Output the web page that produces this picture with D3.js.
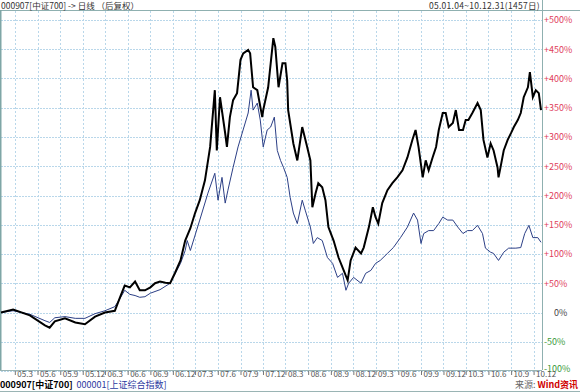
<!DOCTYPE html>
<html><head><meta charset="utf-8">
<script src="https://cdn.jsdelivr.net/npm/d3@7/dist/d3.min.js"></script>
<style>body{margin:0;background:#fff;}svg{display:block;}</style>
</head><body><svg id="c" width="580" height="392"></svg>
<script>
const csi700Dates = ["2005-01-04","2005-02-22","2005-05-01","2005-07-01","2005-07-20","2005-08-10","2005-09-20","2005-11-01","2005-12-10","2006-01-20","2006-03-01","2006-04-10","2006-05-01","2006-05-20","2006-06-10","2006-07-01","2006-07-20","2006-08-10","2006-09-01","2006-09-20","2006-10-10","2006-11-01","2006-11-20","2006-12-10","2007-01-01","2007-01-20","2007-02-10","2007-03-01","2007-03-20","2007-04-10","2007-05-01","2007-05-20","2007-05-28","2007-06-10","2007-07-01","2007-07-08","2007-07-20","2007-08-02","2007-08-18","2007-09-01","2007-09-12","2007-10-02","2007-10-10","2007-10-22","2007-11-08","2007-11-28","2007-12-02","2007-12-22","2008-01-12","2008-01-20","2008-02-02","2008-02-18","2008-03-01","2008-03-08","2008-03-12","2008-04-02","2008-04-18","2008-05-08","2008-05-28","2008-06-10","2008-06-18","2008-07-01","2008-07-12","2008-07-28","2008-08-10","2008-08-22","2008-09-12","2008-10-02","2008-10-18","2008-11-08","2008-11-20","2008-12-10","2009-01-01","2009-01-12","2009-02-02","2009-02-18","2009-03-01","2009-03-12","2009-03-28","2009-04-18","2009-05-08","2009-05-28","2009-06-18","2009-07-08","2009-07-28","2009-08-10","2009-08-22","2009-09-08","2009-09-20","2009-10-02","2009-10-18","2009-11-01","2009-11-12","2009-11-28","2009-12-10","2009-12-22","2010-01-08","2010-01-20","2010-02-02","2010-02-18","2010-03-01","2010-03-12","2010-03-28","2010-04-18","2010-05-01","2010-05-12","2010-05-28","2010-06-10","2010-06-22","2010-07-08","2010-07-12","2010-07-20","2010-08-02","2010-08-18","2010-09-01","2010-09-12","2010-09-28","2010-10-10","2010-10-22","2010-11-08","2010-11-16","2010-11-28","2010-12-10","2010-12-22","2010-12-31"];
const csi700Values = [0,5,-5,-22,-26,-15,-10,-17,-20,-7,0,3,26,46,43,53,38,38,43,50,53,51,50,68,89,123,144,170,192,226,283,380,277,368,306,283,334,363,375,432,443,449,443,385,380,334,346,385,469,454,385,426,426,397,346,289,260,317,283,260,180,204,221,214,192,146,123,94,77,55,89,111,101,111,146,180,163,152,187,209,221,231,243,265,295,312,283,231,260,243,265,283,312,341,341,317,324,346,312,312,329,329,341,358,346,295,265,289,277,248,231,248,277,295,307,317,329,341,368,385,411,368,380,375,346];

const sseDates = ["2005-01-04","2005-02-22","2005-05-01","2005-07-01","2005-07-20","2005-08-10","2005-09-20","2005-11-01","2005-12-10","2006-01-20","2006-03-01","2006-04-10","2006-05-01","2006-05-20","2006-06-10","2006-07-01","2006-07-20","2006-08-10","2006-09-01","2006-10-10","2006-11-20","2007-01-01","2007-01-20","2007-01-28","2007-02-10","2007-03-20","2007-04-22","2007-05-20","2007-06-02","2007-06-18","2007-07-01","2007-07-12","2007-08-02","2007-08-22","2007-09-20","2007-10-02","2007-10-14","2007-10-22","2007-11-08","2007-11-20","2007-12-02","2007-12-18","2008-01-01","2008-01-16","2008-01-28","2008-02-10","2008-02-22","2008-03-08","2008-03-20","2008-04-02","2008-04-18","2008-05-08","2008-05-20","2008-06-10","2008-06-22","2008-07-08","2008-07-28","2008-08-18","2008-09-08","2008-09-28","2008-10-18","2008-11-01","2008-11-12","2008-12-02","2009-01-01","2009-01-20","2009-02-10","2009-03-01","2009-03-20","2009-04-18","2009-05-12","2009-06-10","2009-07-08","2009-08-02","2009-08-18","2009-09-01","2009-09-12","2009-10-02","2009-10-22","2009-11-12","2009-11-28","2009-12-18","2010-01-08","2010-01-28","2010-02-18","2010-03-08","2010-03-28","2010-04-18","2010-05-08","2010-05-20","2010-06-10","2010-06-22","2010-07-12","2010-08-02","2010-08-22","2010-09-20","2010-10-10","2010-10-26","2010-11-12","2010-11-28","2010-12-18","2010-12-31"];
const sseValues = [0,3,-3,-14,-17,-9,-7,-10,-10,-2,3,10,24,38,31,29,26,27,33,39,50,84,106,123,106,158,204,238,192,231,187,209,248,283,324,341,380,346,358,329,283,312,317,334,277,260,248,231,197,170,152,192,175,146,118,128,123,94,84,60,67,38,50,60,50,67,72,84,89,101,111,128,146,170,158,118,135,140,140,152,163,158,158,146,135,140,140,149,135,110,103,101,89,103,110,110,111,135,149,128,128,120];

const yTickValues = [500,450,400,350,300,250,200,150,100,50,0,-50,-100];
const xTickDates = ["2005-03-01","2005-06-01","2005-09-01","2005-12-01","2006-03-01","2006-06-01","2006-09-01","2006-12-01","2007-03-01","2007-06-01","2007-09-01","2007-12-01","2008-03-01","2008-06-01","2008-09-01","2008-12-01","2009-03-01","2009-06-01","2009-09-01","2009-12-01","2010-03-01","2010-06-01","2010-09-01","2010-12-01"];
const xTickLabels = ["05.3","05.6","05.9","05.12","06.3","06.6","06.9","06.12","07.3","07.6","07.9","07.12","08.3","08.6","08.9","08.12","09.3","09.6","09.9","09.12","10.3","10.6","10.9","10.12"];

const parse = d3.timeParse("%Y-%m-%d");
const svg = d3.select("#c");
const font = "'Noto Sans CJK SC', 'DejaVu Sans', sans-serif";
const L = 1, R = 542, T = 11, B = 370;

const x = d3.scaleTime().domain([parse("2005-01-04"), parse("2010-12-31")]).range([1, 541]);
const y = d3.scaleLinear().domain([-100, 500]).range([371, 20]);

// grid
const g = svg.append("g");
g.selectAll("line.h").data(yTickValues).join("line")
  .attr("x1", L).attr("x2", R).attr("y1", d => Math.round(y(d)) + 0.5).attr("y2", d => Math.round(y(d)) + 0.5)
  .attr("stroke", "#b9d7ea").attr("stroke-width", 1).attr("stroke-dasharray", "2,1");
g.selectAll("line.v").data(xTickDates).join("line")
  .attr("x1", d => Math.round(x(parse(d))) + 0.5).attr("x2", d => Math.round(x(parse(d))) + 0.5)
  .attr("y1", T).attr("y2", B)
  .attr("stroke", "#b9d7ea").attr("stroke-width", 1).attr("stroke-dasharray", "2,2");

// frame
svg.append("line").attr("x1", 0).attr("x2", 580).attr("y1", 10.5).attr("y2", 10.5).attr("stroke", "#8fb0b0");
svg.append("line").attr("x1", 0.5).attr("x2", 0.5).attr("y1", 10).attr("y2", B).attr("stroke", "#7fa6a6").attr("stroke-width", 2);
svg.append("line").attr("x1", R + 0.5).attr("x2", R + 0.5).attr("y1", 0).attr("y2", B).attr("stroke", "#8fb0b0");
svg.append("line").attr("x1", 0).attr("x2", R).attr("y1", B + 0.5).attr("y2", B + 0.5).attr("stroke", "#9ab4b4");
svg.append("line").attr("x1", 0).attr("x2", 580).attr("y1", 391.5).attr("y2", 391.5).attr("stroke", "#9ab4b4");

// lines
const line = d3.line().x(d => x(d[0])).y(d => y(d[1]));
const sse = sseDates.map((d, i) => [parse(d), sseValues[i]]);
const csi = csi700Dates.map((d, i) => [parse(d), csi700Values[i]]);
svg.append("path").datum(sse).attr("d", line).attr("fill", "none").attr("stroke", "#2c3f86").attr("stroke-width", 1);
svg.append("path").datum(csi).attr("d", line).attr("fill", "none").attr("stroke", "#000").attr("stroke-width", 2).attr("stroke-linejoin", "miter");

// right axis
const yAxis = d3.axisRight(y).tickValues(yTickValues).tickSize(3)
  .tickFormat(d => (d > 0 ? "+" : "") + d + "%");
const ya = svg.append("g").attr("transform", `translate(${R},0)`).call(yAxis);
ya.select(".domain").remove();
ya.selectAll("line").remove();
ya.selectAll("text").attr("x", 2).attr("font-family", font).attr("font-size", 9)
  .attr("fill", d => d > 0 ? "#e0405a" : (d < 0 ? "#3a9a3a" : "#444"));
ya.selectAll(".tick").filter(d => d === 0).select("text").attr("x", 12);
ya.selectAll(".tick").filter(d => d === -100).select("text").attr("dy", "0.1em");

// bottom axis
const xAxis = d3.axisBottom(x).tickValues(xTickDates.map(parse)).tickSize(5)
  .tickFormat((d, i) => xTickLabels[i]);
const xa = svg.append("g").attr("transform", `translate(0,${B})`).call(xAxis);
xa.select(".domain").remove();
xa.selectAll("line").attr("stroke", "#777").attr("y1", 1);
xa.selectAll("text").attr("text-anchor", "start").attr("x", 2).attr("y", 0).attr("dy", "0.85em")
  .attr("font-family", font).attr("font-size", 8).attr("fill", "#555");

// header
svg.append("text").attr("x", 1).attr("y", 9).attr("font-family", font).attr("font-size", 8.5).attr("fill", "#333")
  .text("000907[中证700] -> 日线 （后复权）");
svg.append("text").attr("x", 540).attr("y", 9).attr("text-anchor", "end").attr("font-family", font).attr("font-size", 8.5).attr("fill", "#333")
  .attr("letter-spacing", 0.3).text("05.01.04~10.12.31(1457日)");

// legend
const lg = svg.append("text").attr("x", 0).attr("y", 388).attr("font-family", font).attr("font-size", 9);
lg.append("tspan").attr("fill", "#000").attr("font-weight", "bold").text("000907[中证700]");
lg.append("tspan").attr("fill", "#2a3aa0").attr("dx", 4).text("000001[上证综合指数]");

const src = svg.append("text").attr("x", 578).attr("y", 388).attr("text-anchor", "end").attr("font-family", font).attr("font-size", 9);
src.append("tspan").attr("fill", "#666").text("来源: ");
src.append("tspan").attr("fill", "#d00000").attr("font-weight", "bold").text("Wind资讯");
</script></body></html>
